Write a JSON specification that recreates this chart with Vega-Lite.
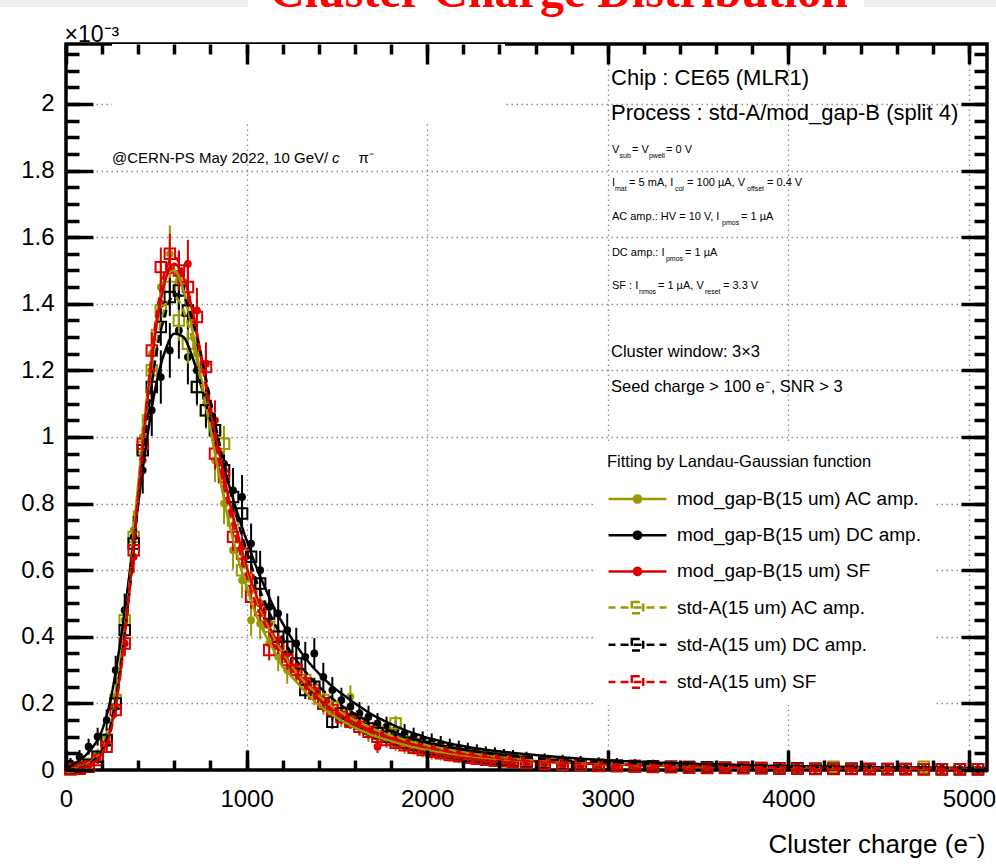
{
  "$schema": "https://vega.github.io/schema/vega-lite/v6.json",
  "width": 921,
  "height": 726,
  "autosize": {"type": "none"},
  "padding": {"left": 66, "top": 44, "right": 9, "bottom": 94},
  "background": "white",
  "config": {
    "view": {"stroke": "black", "strokeWidth": 3.5},
    "axis": {"labelFont": "Liberation Sans", "titleFont": "Liberation Sans", "labelColor": "black", "titleColor": "black", "tickColor": "black", "tickWidth": 3.5, "domain": false},
    "text": {"font": "Liberation Sans", "color": "black", "align": "left", "baseline": "middle"}
  },
  "datasets": {
    "pts": [
      {"x":25,"a":0.004,"b":0.02,"c":0.005,"d":0.003,"e":0.003,"f":0.002,"ea":0.009,"eb":0.016,"ec":0.008,"ed":0.007,"ee":0.007,"ef":0.006},
      {"x":75,"a":0.01,"b":0.04,"c":0.008,"d":0.008,"e":0.006,"f":0.004,"ea":0.012,"eb":0.02,"ec":0.009,"ed":0.008,"ee":0.007,"ef":0.007},
      {"x":125,"a":0.02,"b":0.07,"c":0.015,"d":0.018,"e":0.015,"f":0.01,"ea":0.014,"eb":0.024,"ec":0.011,"ed":0.01,"ee":0.009,"ef":0.008},
      {"x":175,"a":0.045,"b":0.1,"c":0.035,"d":0.04,"e":0.04,"f":0.03,"ea":0.019,"eb":0.027,"ec":0.015,"ed":0.014,"ee":0.013,"ef":0.012},
      {"x":225,"a":0.1,"b":0.15,"c":0.08,"d":0.09,"e":0.09,"f":0.07,"ea":0.025,"eb":0.032,"ec":0.02,"ed":0.019,"ee":0.017,"ef":0.016},
      {"x":275,"a":0.22,"b":0.3,"c":0.19,"d":0.21,"e":0.2,"f":0.18,"ea":0.035,"eb":0.043,"ec":0.028,"ed":0.026,"ee":0.024,"ef":0.023},
      {"x":325,"a":0.45,"b":0.48,"c":0.38,"d":0.45,"e":0.42,"f":0.38,"ea":0.048,"eb":0.05,"ec":0.039,"ed":0.037,"ee":0.033,"ef":0.032},
      {"x":375,"a":0.72,"b":0.7,"c":0.64,"d":0.7,"e":0.68,"f":0.66,"ea":0.059,"eb":0.063,"ec":0.049,"ed":0.046,"ee":0.042,"ef":0.041},
      {"x":425,"a":1.0,"b":0.9,"c":0.93,"d":0.97,"e":0.96,"f":0.98,"ea":0.069,"eb":0.07,"ec":0.058,"ed":0.054,"ee":0.049,"ef":0.049},
      {"x":475,"a":1.25,"b":1.08,"c":1.2,"d":1.2,"e":1.15,"f":1.26,"ea":0.075,"eb":0.077,"ec":0.064,"ed":0.058,"ee":0.052,"ef":0.054},
      {"x":525,"a":1.45,"b":1.18,"c":1.4,"d":1.38,"e":1.33,"f":1.51,"ea":0.08,"eb":0.08,"ec":0.068,"ed":0.062,"ee":0.056,"ef":0.059},
      {"x":575,"a":1.55,"b":1.26,"c":1.5,"d":1.45,"e":1.42,"f":1.55,"ea":0.085,"eb":0.082,"ec":0.071,"ed":0.063,"ee":0.057,"ef":0.06},
      {"x":625,"a":1.47,"b":1.32,"c":1.49,"d":1.35,"e":1.44,"f":1.5,"ea":0.082,"eb":0.085,"ec":0.07,"ed":0.061,"ee":0.058,"ef":0.059},
      {"x":675,"a":1.4,"b":1.24,"c":1.52,"d":1.28,"e":1.38,"f":1.45,"ea":0.08,"eb":0.082,"ec":0.072,"ed":0.06,"ee":0.057,"ef":0.058},
      {"x":725,"a":1.25,"b":1.2,"c":1.38,"d":1.15,"e":1.15,"f":1.36,"ea":0.075,"eb":0.08,"ec":0.068,"ed":0.058,"ee":0.052,"ef":0.056},
      {"x":775,"a":1.1,"b":1.12,"c":1.22,"d":1.08,"e":1.08,"f":1.21,"ea":0.071,"eb":0.078,"ec":0.064,"ed":0.056,"ee":0.051,"ef":0.053},
      {"x":825,"a":0.93,"b":1.0,"c":1.05,"d":1.02,"e":1.02,"f":0.95,"ea":0.066,"eb":0.073,"ec":0.06,"ed":0.054,"ee":0.05,"ef":0.048},
      {"x":875,"a":0.8,"b":0.92,"c":0.9,"d":0.98,"e":0.9,"f":0.88,"ea":0.062,"eb":0.07,"ec":0.056,"ed":0.053,"ee":0.047,"ef":0.046},
      {"x":925,"a":0.66,"b":0.84,"c":0.78,"d":0.75,"e":0.82,"f":0.7,"ea":0.058,"eb":0.067,"ec":0.052,"ed":0.048,"ee":0.045,"ef":0.042},
      {"x":975,"a":0.57,"b":0.82,"c":0.67,"d":0.6,"e":0.77,"f":0.65,"ea":0.054,"eb":0.066,"ec":0.049,"ed":0.043,"ee":0.043,"ef":0.04},
      {"x":1025,"a":0.45,"b":0.68,"c":0.58,"d":0.55,"e":0.64,"f":0.52,"ea":0.048,"eb":0.06,"ec":0.046,"ed":0.041,"ee":0.04,"ef":0.036},
      {"x":1075,"a":0.44,"b":0.6,"c":0.5,"d":0.49,"e":0.56,"f":0.48,"ea":0.048,"eb":0.058,"ec":0.043,"ed":0.04,"ee":0.038,"ef":0.035},
      {"x":1125,"a":0.38,"b":0.49,"c":0.44,"d":0.43,"e":0.47,"f":0.36,"ea":0.045,"eb":0.053,"ec":0.041,"ed":0.037,"ee":0.035,"ef":0.031},
      {"x":1175,"a":0.34,"b":0.47,"c":0.39,"d":0.38,"e":0.4,"f":0.38,"ea":0.043,"eb":0.052,"ec":0.038,"ed":0.035,"ee":0.033,"ef":0.032},
      {"x":1225,"a":0.3,"b":0.42,"c":0.35,"d":0.34,"e":0.37,"f":0.33,"ea":0.041,"eb":0.05,"ec":0.036,"ed":0.033,"ee":0.032,"ef":0.03},
      {"x":1275,"a":0.31,"b":0.38,"c":0.3,"d":0.3,"e":0.32,"f":0.3,"ea":0.041,"eb":0.047,"ec":0.034,"ed":0.032,"ee":0.03,"ef":0.029},
      {"x":1325,"a":0.26,"b":0.34,"c":0.27,"d":0.27,"e":0.24,"f":0.26,"ea":0.038,"eb":0.045,"ec":0.033,"ed":0.03,"ee":0.027,"ef":0.027},
      {"x":1375,"a":0.23,"b":0.35,"c":0.24,"d":0.24,"e":0.25,"f":0.23,"ea":0.036,"eb":0.046,"ec":0.031,"ed":0.029,"ee":0.027,"ef":0.026},
      {"x":1425,"a":0.2,"b":0.28,"c":0.21,"d":0.21,"e":0.2,"f":0.2,"ea":0.034,"eb":0.042,"ec":0.03,"ed":0.027,"ee":0.024,"ef":0.024},
      {"x":1475,"a":0.18,"b":0.24,"c":0.18,"d":0.19,"e":0.145,"f":0.18,"ea":0.032,"eb":0.039,"ec":0.028,"ed":0.026,"ee":0.021,"ef":0.023},
      {"x":1525,"a":0.16,"b":0.21,"c":0.165,"d":0.17,"e":0.17,"f":0.16,"ea":0.031,"eb":0.037,"ec":0.027,"ed":0.025,"ee":0.023,"ef":0.022},
      {"x":1575,"a":0.22,"b":0.19,"c":0.15,"d":0.155,"e":0.15,"f":0.145,"ea":0.034,"eb":0.035,"ec":0.026,"ed":0.024,"ee":0.021,"ef":0.021},
      {"x":1625,"a":0.13,"b":0.17,"c":0.13,"d":0.14,"e":0.14,"f":0.13,"ea":0.028,"eb":0.034,"ec":0.024,"ed":0.023,"ee":0.021,"ef":0.02},
      {"x":1675,"a":0.11,"b":0.16,"c":0.115,"d":0.125,"e":0.125,"f":0.115,"ea":0.026,"eb":0.033,"ec":0.023,"ed":0.022,"ee":0.02,"ef":0.019},
      {"x":1725,"a":0.1,"b":0.14,"c":0.07,"d":0.115,"e":0.11,"f":0.1,"ea":0.025,"eb":0.031,"ec":0.019,"ed":0.021,"ee":0.019,"ef":0.018},
      {"x":1775,"a":0.09,"b":0.13,"c":0.095,"d":0.105,"e":0.1,"f":0.09,"ea":0.024,"eb":0.03,"ec":0.021,"ed":0.02,"ee":0.018,"ef":0.017},
      {"x":1825,"a":0.08,"b":0.12,"c":0.085,"d":0.14,"e":0.09,"f":0.082,"ea":0.023,"eb":0.029,"ec":0.02,"ed":0.023,"ee":0.017,"ef":0.017},
      {"x":1875,"a":0.07,"b":0.11,"c":0.075,"d":0.085,"e":0.082,"f":0.074,"ea":0.022,"eb":0.028,"ec":0.019,"ed":0.018,"ee":0.017,"ef":0.016},
      {"x":1925,"a":0.065,"b":0.1,"c":0.07,"d":0.078,"e":0.075,"f":0.067,"ea":0.021,"eb":0.027,"ec":0.019,"ed":0.018,"ee":0.016,"ef":0.016},
      {"x":1975,"a":0.058,"b":0.09,"c":0.06,"d":0.07,"e":0.068,"f":0.06,"ea":0.02,"eb":0.026,"ec":0.018,"ed":0.017,"ee":0.016,"ef":0.015},
      {"x":2025,"a":0.05,"b":0.085,"c":0.055,"d":0.064,"e":0.062,"f":0.055,"ea":0.019,"eb":0.025,"ec":0.017,"ed":0.016,"ee":0.015,"ef":0.014},
      {"x":2075,"a":0.046,"b":0.078,"c":0.05,"d":0.058,"e":0.056,"f":0.05,"ea":0.018,"eb":0.024,"ec":0.016,"ed":0.016,"ee":0.014,"ef":0.014},
      {"x":2125,"a":0.042,"b":0.07,"c":0.045,"d":0.053,"e":0.051,"f":0.045,"ea":0.018,"eb":0.024,"ec":0.016,"ed":0.015,"ee":0.014,"ef":0.013},
      {"x":2175,"a":0.037,"b":0.065,"c":0.04,"d":0.048,"e":0.047,"f":0.041,"ea":0.017,"eb":0.023,"ec":0.015,"ed":0.015,"ee":0.013,"ef":0.013},
      {"x":2225,"a":0.034,"b":0.06,"c":0.038,"d":0.044,"e":0.043,"f":0.037,"ea":0.016,"eb":0.022,"ec":0.015,"ed":0.014,"ee":0.013,"ef":0.012},
      {"x":2275,"a":0.031,"b":0.055,"c":0.033,"d":0.04,"e":0.039,"f":0.034,"ea":0.016,"eb":0.022,"ec":0.014,"ed":0.014,"ee":0.012,"ef":0.012},
      {"x":2325,"a":0.028,"b":0.05,"c":0.03,"d":0.037,"e":0.036,"f":0.031,"ea":0.015,"eb":0.021,"ec":0.014,"ed":0.013,"ee":0.012,"ef":0.012},
      {"x":2375,"a":0.025,"b":0.047,"c":0.028,"d":0.034,"e":0.033,"f":0.028,"ea":0.015,"eb":0.021,"ec":0.013,"ed":0.013,"ee":0.012,"ef":0.011},
      {"x":2425,"a":0.023,"b":0.043,"c":0.026,"d":0.031,"e":0.03,"f":0.026,"ea":0.014,"eb":0.02,"ec":0.013,"ed":0.012,"ee":0.011,"ef":0.011},
      {"x":2475,"a":0.021,"b":0.04,"c":0.023,"d":0.028,"e":0.028,"f":0.024,"ea":0.014,"eb":0.02,"ec":0.012,"ed":0.012,"ee":0.011,"ef":0.011},
      {"x":2550,"a":0.019,"b":0.036,"c":0.02,"d":0.025,"e":0.025,"f":0.021,"ea":0.014,"eb":0.019,"ec":0.012,"ed":0.012,"ee":0.011,"ef":0.01},
      {"x":2650,"a":0.016,"b":0.032,"c":0.018,"d":0.022,"e":0.022,"f":0.018,"ea":0.013,"eb":0.018,"ec":0.012,"ed":0.011,"ee":0.01,"ef":0.01},
      {"x":2750,"a":0.014,"b":0.028,"c":0.015,"d":0.019,"e":0.019,"f":0.016,"ea":0.012,"eb":0.018,"ec":0.011,"ed":0.011,"ee":0.01,"ef":0.01},
      {"x":2850,"a":0.012,"b":0.025,"c":0.013,"d":0.017,"e":0.017,"f":0.014,"ea":0.012,"eb":0.017,"ec":0.011,"ed":0.01,"ee":0.01,"ef":0.009},
      {"x":2950,"a":0.011,"b":0.022,"c":0.012,"d":0.015,"e":0.015,"f":0.012,"ea":0.012,"eb":0.016,"ec":0.011,"ed":0.01,"ee":0.009,"ef":0.009},
      {"x":3050,"a":0.01,"b":0.02,"c":0.01,"d":0.013,"e":0.013,"f":0.011,"ea":0.011,"eb":0.016,"ec":0.01,"ed":0.01,"ee":0.009,"ef":0.009},
      {"x":3150,"a":0.009,"b":0.018,"c":0.009,"d":0.012,"e":0.012,"f":0.01,"ea":0.011,"eb":0.015,"ec":0.01,"ed":0.009,"ee":0.009,"ef":0.008},
      {"x":3250,"a":0.008,"b":0.016,"c":0.008,"d":0.011,"e":0.011,"f":0.009,"ea":0.011,"eb":0.015,"ec":0.01,"ed":0.009,"ee":0.009,"ef":0.008},
      {"x":3350,"a":0.007,"b":0.014,"c":0.007,"d":0.01,"e":0.01,"f":0.008,"ea":0.01,"eb":0.014,"ec":0.009,"ed":0.009,"ee":0.008,"ef":0.008},
      {"x":3450,"a":0.006,"b":0.013,"c":0.007,"d":0.009,"e":0.009,"f":0.007,"ea":0.01,"eb":0.014,"ec":0.009,"ed":0.009,"ee":0.008,"ef":0.008},
      {"x":3550,"a":0.006,"b":0.012,"c":0.006,"d":0.008,"e":0.008,"f":0.006,"ea":0.01,"eb":0.014,"ec":0.009,"ed":0.009,"ee":0.008,"ef":0.007},
      {"x":3650,"a":0.005,"b":0.011,"c":0.005,"d":0.007,"e":0.007,"f":0.006,"ea":0.01,"eb":0.013,"ec":0.008,"ed":0.008,"ee":0.008,"ef":0.007},
      {"x":3750,"a":0.005,"b":0.01,"c":0.005,"d":0.007,"e":0.007,"f":0.005,"ea":0.01,"eb":0.013,"ec":0.008,"ed":0.008,"ee":0.007,"ef":0.007},
      {"x":3850,"a":0.004,"b":0.009,"c":0.004,"d":0.006,"e":0.006,"f":0.005,"ea":0.009,"eb":0.013,"ec":0.008,"ed":0.008,"ee":0.007,"ef":0.007},
      {"x":3950,"a":0.004,"b":0.008,"c":0.004,"d":0.005,"e":0.005,"f":0.004,"ea":0.009,"eb":0.012,"ec":0.008,"ed":0.008,"ee":0.007,"ef":0.007},
      {"x":4050,"a":0.003,"b":0.007,"c":0.004,"d":0.005,"e":0.005,"f":0.004,"ea":0.009,"eb":0.012,"ec":0.008,"ed":0.008,"ee":0.007,"ef":0.007},
      {"x":4150,"a":0.003,"b":0.007,"c":0.003,"d":0.004,"e":0.004,"f":0.003,"ea":0.009,"eb":0.012,"ec":0.008,"ed":0.007,"ee":0.007,"ef":0.006},
      {"x":4250,"a":0.003,"b":0.006,"c":0.003,"d":0.01,"e":0.004,"f":0.003,"ea":0.009,"eb":0.012,"ec":0.008,"ed":0.009,"ee":0.007,"ef":0.006},
      {"x":4350,"a":0.003,"b":0.006,"c":0.003,"d":0.004,"e":0.004,"f":0.003,"ea":0.009,"eb":0.012,"ec":0.008,"ed":0.007,"ee":0.007,"ef":0.006},
      {"x":4450,"a":0.002,"b":0.005,"c":0.002,"d":0.003,"e":0.003,"f":0.003,"ea":0.008,"eb":0.011,"ec":0.007,"ed":0.007,"ee":0.006,"ef":0.006},
      {"x":4550,"a":0.002,"b":0.005,"c":0.002,"d":0.003,"e":0.003,"f":0.002,"ea":0.008,"eb":0.011,"ec":0.007,"ed":0.007,"ee":0.006,"ef":0.006},
      {"x":4650,"a":0.002,"b":0.004,"c":0.002,"d":0.003,"e":0.003,"f":0.002,"ea":0.008,"eb":0.011,"ec":0.007,"ed":0.007,"ee":0.006,"ef":0.006},
      {"x":4750,"a":0.002,"b":0.004,"c":0.002,"d":0.01,"e":0.002,"f":0.002,"ea":0.008,"eb":0.011,"ec":0.007,"ed":0.009,"ee":0.006,"ef":0.006},
      {"x":4850,"a":0.001,"b":0.004,"c":0.002,"d":0.002,"e":0.002,"f":0.002,"ea":0.008,"eb":0.011,"ec":0.007,"ed":0.007,"ee":0.006,"ef":0.006},
      {"x":4950,"a":0.001,"b":0.003,"c":0.001,"d":0.002,"e":0.002,"f":0.002,"ea":0.008,"eb":0.01,"ec":0.007,"ed":0.007,"ee":0.006,"ef":0.006},
      {"x":5050,"a":0.001,"b":0.003,"c":0.001,"d":0.002,"e":0.002,"f":0.002,"ea":0.008,"eb":0.01,"ec":0.007,"ed":0.007,"ee":0.006,"ef":0.006}
    ],
    "fit": [
      {"x":0,"a":0,"b":0.005,"c":0,"d":0,"e":0,"f":0},
      {"x":50,"a":0.005,"b":0.02,"c":0.003,"d":0.004,"e":0.004,"f":0.002},
      {"x":100,"a":0.012,"b":0.04,"c":0.01,"d":0.011,"e":0.01,"f":0.008},
      {"x":150,"a":0.03,"b":0.07,"c":0.025,"d":0.028,"e":0.027,"f":0.022},
      {"x":200,"a":0.06,"b":0.12,"c":0.055,"d":0.06,"e":0.06,"f":0.05},
      {"x":250,"a":0.14,"b":0.22,"c":0.13,"d":0.14,"e":0.14,"f":0.12},
      {"x":300,"a":0.32,"b":0.38,"c":0.29,"d":0.31,"e":0.3,"f":0.28},
      {"x":350,"a":0.58,"b":0.58,"c":0.53,"d":0.55,"e":0.53,"f":0.53},
      {"x":400,"a":0.86,"b":0.8,"c":0.82,"d":0.82,"e":0.8,"f":0.83},
      {"x":450,"a":1.13,"b":1.0,"c":1.1,"d":1.07,"e":1.05,"f":1.12},
      {"x":500,"a":1.35,"b":1.16,"c":1.33,"d":1.27,"e":1.25,"f":1.36},
      {"x":550,"a":1.48,"b":1.26,"c":1.47,"d":1.39,"e":1.37,"f":1.5},
      {"x":600,"a":1.5,"b":1.31,"c":1.52,"d":1.42,"e":1.43,"f":1.54},
      {"x":650,"a":1.44,"b":1.3,"c":1.48,"d":1.38,"e":1.42,"f":1.49},
      {"x":700,"a":1.32,"b":1.24,"c":1.38,"d":1.29,"e":1.35,"f":1.38},
      {"x":750,"a":1.17,"b":1.15,"c":1.24,"d":1.16,"e":1.24,"f":1.23},
      {"x":800,"a":1.02,"b":1.05,"c":1.09,"d":1.03,"e":1.11,"f":1.07},
      {"x":850,"a":0.88,"b":0.95,"c":0.95,"d":0.9,"e":0.98,"f":0.92},
      {"x":900,"a":0.75,"b":0.86,"c":0.82,"d":0.78,"e":0.86,"f":0.79},
      {"x":950,"a":0.64,"b":0.77,"c":0.71,"d":0.68,"e":0.75,"f":0.68},
      {"x":1000,"a":0.55,"b":0.69,"c":0.61,"d":0.59,"e":0.66,"f":0.58},
      {"x":1050,"a":0.47,"b":0.615,"c":0.53,"d":0.51,"e":0.575,"f":0.5},
      {"x":1100,"a":0.41,"b":0.55,"c":0.46,"d":0.45,"e":0.505,"f":0.44},
      {"x":1150,"a":0.36,"b":0.49,"c":0.405,"d":0.395,"e":0.445,"f":0.385},
      {"x":1200,"a":0.31,"b":0.44,"c":0.355,"d":0.35,"e":0.395,"f":0.34},
      {"x":1250,"a":0.28,"b":0.395,"c":0.315,"d":0.31,"e":0.35,"f":0.3},
      {"x":1300,"a":0.25,"b":0.355,"c":0.28,"d":0.277,"e":0.312,"f":0.267},
      {"x":1350,"a":0.22,"b":0.32,"c":0.25,"d":0.248,"e":0.28,"f":0.238},
      {"x":1400,"a":0.195,"b":0.29,"c":0.224,"d":0.223,"e":0.251,"f":0.213},
      {"x":1450,"a":0.175,"b":0.263,"c":0.2,"d":0.2,"e":0.226,"f":0.191},
      {"x":1500,"a":0.157,"b":0.24,"c":0.18,"d":0.181,"e":0.204,"f":0.172},
      {"x":1550,"a":0.141,"b":0.22,"c":0.162,"d":0.164,"e":0.185,"f":0.155},
      {"x":1600,"a":0.127,"b":0.2,"c":0.146,"d":0.149,"e":0.168,"f":0.14},
      {"x":1650,"a":0.115,"b":0.182,"c":0.132,"d":0.136,"e":0.153,"f":0.127},
      {"x":1700,"a":0.104,"b":0.165,"c":0.12,"d":0.124,"e":0.14,"f":0.115},
      {"x":1750,"a":0.095,"b":0.151,"c":0.109,"d":0.113,"e":0.128,"f":0.105},
      {"x":1800,"a":0.087,"b":0.138,"c":0.099,"d":0.103,"e":0.117,"f":0.096},
      {"x":1850,"a":0.079,"b":0.126,"c":0.09,"d":0.095,"e":0.107,"f":0.088},
      {"x":1900,"a":0.072,"b":0.115,"c":0.082,"d":0.087,"e":0.098,"f":0.08},
      {"x":1950,"a":0.066,"b":0.106,"c":0.075,"d":0.08,"e":0.09,"f":0.073},
      {"x":2000,"a":0.061,"b":0.097,"c":0.069,"d":0.074,"e":0.083,"f":0.067},
      {"x":2050,"a":0.056,"b":0.09,"c":0.063,"d":0.068,"e":0.077,"f":0.062},
      {"x":2100,"a":0.052,"b":0.083,"c":0.058,"d":0.063,"e":0.071,"f":0.057},
      {"x":2150,"a":0.048,"b":0.077,"c":0.053,"d":0.058,"e":0.066,"f":0.052},
      {"x":2200,"a":0.044,"b":0.072,"c":0.049,"d":0.054,"e":0.061,"f":0.048},
      {"x":2250,"a":0.041,"b":0.067,"c":0.045,"d":0.05,"e":0.057,"f":0.044},
      {"x":2300,"a":0.038,"b":0.063,"c":0.042,"d":0.046,"e":0.053,"f":0.041},
      {"x":2350,"a":0.035,"b":0.059,"c":0.039,"d":0.043,"e":0.049,"f":0.038},
      {"x":2400,"a":0.033,"b":0.056,"c":0.036,"d":0.04,"e":0.046,"f":0.035},
      {"x":2450,"a":0.031,"b":0.053,"c":0.034,"d":0.038,"e":0.043,"f":0.033},
      {"x":2500,"a":0.029,"b":0.05,"c":0.031,"d":0.035,"e":0.04,"f":0.03},
      {"x":2600,"a":0.026,"b":0.045,"c":0.027,"d":0.031,"e":0.035,"f":0.026},
      {"x":2800,"a":0.021,"b":0.036,"c":0.022,"d":0.025,"e":0.028,"f":0.021},
      {"x":3000,"a":0.017,"b":0.029,"c":0.018,"d":0.02,"e":0.023,"f":0.017},
      {"x":3200,"a":0.014,"b":0.024,"c":0.015,"d":0.017,"e":0.019,"f":0.014},
      {"x":3400,"a":0.012,"b":0.02,"c":0.012,"d":0.014,"e":0.016,"f":0.012},
      {"x":3600,"a":0.01,"b":0.017,"c":0.01,"d":0.012,"e":0.013,"f":0.01},
      {"x":3800,"a":0.0085,"b":0.014,"c":0.0088,"d":0.01,"e":0.011,"f":0.0084},
      {"x":4000,"a":0.0073,"b":0.012,"c":0.0075,"d":0.0087,"e":0.0095,"f":0.0072},
      {"x":4200,"a":0.0063,"b":0.0105,"c":0.0065,"d":0.0076,"e":0.0083,"f":0.0062},
      {"x":4400,"a":0.0055,"b":0.009,"c":0.0057,"d":0.0066,"e":0.0072,"f":0.0054},
      {"x":4600,"a":0.0048,"b":0.008,"c":0.005,"d":0.0058,"e":0.0063,"f":0.0047},
      {"x":4800,"a":0.0042,"b":0.007,"c":0.0044,"d":0.0051,"e":0.0055,"f":0.0042},
      {"x":5000,"a":0.0037,"b":0.0062,"c":0.0039,"d":0.0045,"e":0.0049,"f":0.0037},
      {"x":5100,"a":0.0035,"b":0.006,"c":0.0037,"d":0.0043,"e":0.0046,"f":0.0035}
    ]
  },
  "resolve": {"axis": {"x": "independent", "y": "independent"}},
  "layer": [
    {
      "data": {"values": [{}]},
      "mark": {"type": "rect", "color": "white"},
      "encoding": {
        "x": {"datum": 255, "type": "quantitative", "axis": null},
        "x2": {"datum": 2431},
        "y": {"datum": 1.946, "type": "quantitative", "axis": null},
        "y2": {"datum": 2.18}
      }
    },
    {
      "data": {"values": [{}]},
      "mark": {"type": "rect", "color": "#eeeeee"},
      "encoding": {
        "x": {"datum": -366, "type": "quantitative", "axis": null},
        "x2": {"datum": 1008},
        "y": {"datum": 2.2911, "type": "quantitative", "axis": null},
        "y2": {"datum": 2.3125}
      }
    },
    {
      "data": {"values": [{}]},
      "mark": {"type": "rect", "color": "#eeeeee"},
      "encoding": {
        "x": {"datum": 4419, "type": "quantitative", "axis": null},
        "x2": {"datum": 5160},
        "y": {"datum": 2.2911, "type": "quantitative", "axis": null},
        "y2": {"datum": 2.3125}
      }
    },
    {
      "data": {"values": [{}]},
      "mark": {"type": "text", "font": "Liberation Serif", "fontSize": 48, "fontWeight": "bold", "color": "#ff0000", "align": "center", "baseline": "alphabetic"},
      "encoding": {
        "x": {"datum": 2730, "type": "quantitative", "axis": null},
        "y": {"datum": 2.2911, "type": "quantitative", "axis": null},
        "text": {"value": "Cluster Charge Distribution"}
      }
    },
    {
      "data": {"name": "pts"},
      "mark": {"type": "errorbar", "color": "#999900", "thickness": 2},
      "encoding": {"x": {"field": "x", "type": "quantitative", "axis": null}, "y": {"field": "a", "type": "quantitative", "axis": null}, "yError": {"field": "ea"}}
    },
    {
      "data": {"name": "pts"},
      "mark": {"type": "point", "shape": "circle", "filled": true, "size": 60, "color": "#999900", "opacity": 1},
      "encoding": {
        "x": {"field": "x", "type": "quantitative", "scale": {"domain": [0, 5100], "nice": false, "zero": false},
          "axis": {"orient": "bottom", "values": [1000, 2000, 3000, 4000, 5000], "grid": true, "gridDash": [1.5, 3.5], "gridColor": "#8c8c8c", "gridWidth": 1.3, "labels": false, "ticks": false, "title": null, "zindex": 0}},
        "y": {"field": "a", "type": "quantitative", "scale": {"domain": [0, 2.18], "nice": false, "zero": false},
          "axis": {"orient": "left", "values": [0.2, 0.4, 0.6, 0.8, 1, 1.2, 1.4, 1.6, 1.8, 2], "grid": true, "gridDash": [1.5, 3.5], "gridColor": "#8c8c8c", "gridWidth": 1.3, "labels": false, "ticks": false, "title": null, "zindex": 0}}
      }
    },
    {
      "data": {"name": "pts"},
      "mark": {"type": "errorbar", "color": "#000000", "thickness": 2},
      "encoding": {"x": {"field": "x", "type": "quantitative", "axis": null}, "y": {"field": "b", "type": "quantitative", "axis": null}, "yError": {"field": "eb"}}
    },
    {
      "data": {"name": "pts"},
      "mark": {"type": "point", "shape": "circle", "filled": true, "size": 60, "color": "#000000", "opacity": 1},
      "encoding": {
        "x": {"field": "x", "type": "quantitative", "scale": {"domain": [0, 5100], "nice": false, "zero": false},
          "axis": {"orient": "bottom", "values": [0, 1000, 2000, 3000, 4000, 5000], "format": "d", "labels": true, "labelFontSize": 24, "labelPadding": 17, "labelFlush": false, "labelOverlap": false, "labelBaseline": "top", "ticks": false, "grid": false, "title": "Cluster charge (e⁻)", "titleFontSize": 26, "titleFontWeight": "normal", "titleX": 919, "titleY": 82, "titleAlign": "right", "titleBaseline": "alphabetic", "zindex": 2}},
        "y": {"field": "b", "type": "quantitative", "scale": {"domain": [0, 2.18], "nice": false, "zero": false},
          "axis": {"orient": "left", "values": [0, 0.2, 0.4, 0.6, 0.8, 1, 1.2, 1.4, 1.6, 1.8, 2], "format": "~g", "labels": true, "labelFontSize": 24, "labelPadding": 12, "labelFlush": false, "labelOverlap": false, "ticks": false, "grid": false, "title": "×10⁻³", "titleAngle": 0, "titleX": -2, "titleY": -3, "titleAlign": "left", "titleBaseline": "alphabetic", "titleFontSize": 23, "titleFontWeight": "normal", "zindex": 2}}
      }
    },
    {
      "data": {"name": "pts"},
      "mark": {"type": "errorbar", "color": "#dd0000", "thickness": 2},
      "encoding": {"x": {"field": "x", "type": "quantitative", "axis": null}, "y": {"field": "c", "type": "quantitative", "axis": null}, "yError": {"field": "ec"}}
    },
    {
      "data": {"name": "pts"},
      "mark": {"type": "point", "shape": "circle", "filled": true, "size": 60, "color": "#dd0000", "opacity": 1},
      "encoding": {
        "x": {"field": "x", "type": "quantitative", "scale": {"domain": [0, 5100], "nice": false, "zero": false},
          "axis": {"orient": "bottom", "values": [0, 1000, 2000, 3000, 4000, 5000], "labels": false, "ticks": true, "tickSize": 20, "offset": -20, "grid": false, "title": null, "zindex": 2}},
        "y": {"field": "c", "type": "quantitative", "scale": {"domain": [0, 2.18], "nice": false, "zero": false},
          "axis": {"orient": "left", "values": [0, 0.2, 0.4, 0.6, 0.8, 1, 1.2, 1.4, 1.6, 1.8, 2], "labels": false, "ticks": true, "tickSize": 27, "offset": -27, "grid": false, "title": null, "zindex": 2}}
      }
    },
    {
      "data": {"name": "pts"},
      "mark": {"type": "errorbar", "color": "#999900", "thickness": 2},
      "encoding": {"x": {"field": "x", "type": "quantitative", "axis": null}, "y": {"field": "d", "type": "quantitative", "axis": null}, "yError": {"field": "ed"}}
    },
    {
      "data": {"name": "pts"},
      "mark": {"type": "point", "shape": "square", "filled": false, "size": 110, "strokeWidth": 2, "color": "#999900", "opacity": 1},
      "encoding": {
        "x": {"field": "x", "type": "quantitative", "scale": {"domain": [0, 5100], "nice": false, "zero": false},
          "axis": {"orient": "bottom", "values": [0, 200, 400, 600, 800, 1000, 1200, 1400, 1600, 1800, 2000, 2200, 2400, 2600, 2800, 3000, 3200, 3400, 3600, 3800, 4000, 4200, 4400, 4600, 4800, 5000], "labels": false, "ticks": true, "tickSize": 10, "offset": -10, "grid": false, "title": null, "zindex": 2}},
        "y": {"field": "d", "type": "quantitative", "scale": {"domain": [0, 2.18], "nice": false, "zero": false},
          "axis": {"orient": "left", "values": [0, 0.05, 0.1, 0.15, 0.2, 0.25, 0.3, 0.35, 0.4, 0.45, 0.5, 0.55, 0.6, 0.65, 0.7, 0.75, 0.8, 0.85, 0.9, 0.95, 1, 1.05, 1.1, 1.15, 1.2, 1.25, 1.3, 1.35, 1.4, 1.45, 1.5, 1.55, 1.6, 1.65, 1.7, 1.75, 1.8, 1.85, 1.9, 1.95, 2, 2.05, 2.1, 2.15], "labels": false, "ticks": true, "tickSize": 13, "offset": -13, "grid": false, "title": null, "zindex": 2}}
      }
    },
    {
      "data": {"name": "pts"},
      "mark": {"type": "errorbar", "color": "#000000", "thickness": 2},
      "encoding": {"x": {"field": "x", "type": "quantitative", "axis": null}, "y": {"field": "e", "type": "quantitative", "axis": null}, "yError": {"field": "ee"}}
    },
    {
      "data": {"name": "pts"},
      "mark": {"type": "point", "shape": "square", "filled": false, "size": 110, "strokeWidth": 2, "color": "#000000", "opacity": 1},
      "encoding": {
        "x": {"field": "x", "type": "quantitative", "scale": {"domain": [0, 5100], "nice": false, "zero": false},
          "axis": {"orient": "top", "values": [0, 1000, 2000, 3000, 4000, 5000], "labels": false, "ticks": true, "tickSize": 20, "offset": -20, "grid": false, "title": null, "zindex": 2}},
        "y": {"field": "e", "type": "quantitative", "scale": {"domain": [0, 2.18], "nice": false, "zero": false},
          "axis": {"orient": "right", "values": [0, 0.2, 0.4, 0.6, 0.8, 1, 1.2, 1.4, 1.6, 1.8, 2], "labels": false, "ticks": true, "tickSize": 26, "offset": -26, "grid": false, "title": null, "zindex": 2}}
      }
    },
    {
      "data": {"name": "pts"},
      "mark": {"type": "errorbar", "color": "#dd0000", "thickness": 2},
      "encoding": {"x": {"field": "x", "type": "quantitative", "axis": null}, "y": {"field": "f", "type": "quantitative", "axis": null}, "yError": {"field": "ef"}}
    },
    {
      "data": {"name": "pts"},
      "mark": {"type": "point", "shape": "square", "filled": false, "size": 110, "strokeWidth": 2, "color": "#dd0000", "opacity": 1},
      "encoding": {
        "x": {"field": "x", "type": "quantitative", "scale": {"domain": [0, 5100], "nice": false, "zero": false},
          "axis": {"orient": "top", "values": [0, 200, 400, 600, 800, 1000, 1200, 1400, 1600, 1800, 2000, 2200, 2400, 2600, 2800, 3000, 3200, 3400, 3600, 3800, 4000, 4200, 4400, 4600, 4800, 5000], "labels": false, "ticks": true, "tickSize": 10, "offset": -10, "grid": false, "title": null, "zindex": 2}},
        "y": {"field": "f", "type": "quantitative", "scale": {"domain": [0, 2.18], "nice": false, "zero": false},
          "axis": {"orient": "right", "values": [0, 0.05, 0.1, 0.15, 0.2, 0.25, 0.3, 0.35, 0.4, 0.45, 0.5, 0.55, 0.6, 0.65, 0.7, 0.75, 0.8, 0.85, 0.9, 0.95, 1, 1.05, 1.1, 1.15, 1.2, 1.25, 1.3, 1.35, 1.4, 1.45, 1.5, 1.55, 1.6, 1.65, 1.7, 1.75, 1.8, 1.85, 1.9, 1.95, 2, 2.05, 2.1, 2.15], "labels": false, "ticks": true, "tickSize": 13, "offset": -13, "grid": false, "title": null, "zindex": 2}}
      }
    },
    {
      "data": {"name": "fit"},
      "transform": [{"fold": ["a", "b", "c", "d", "e", "f"], "as": ["s", "y"]}],
      "mark": {"type": "line", "interpolate": "monotone", "strokeWidth": 2.5, "clip": true},
      "encoding": {
        "x": {"field": "x", "type": "quantitative", "axis": null},
        "y": {"field": "y", "type": "quantitative", "axis": null},
        "color": {"field": "s", "type": "nominal",
          "scale": {"domain": ["a", "b", "c", "d", "e", "f"], "range": ["#999900", "#000000", "#dd0000", "#999900", "#000000", "#dd0000"]},
          "legend": {
            "title": "Fitting by Landau-Gaussian function", "orient": "none", "legendX": 529, "legendY": 398,
            "labelExpr": "datum.value == 'a' ? 'mod_gap-B(15 um) AC amp.' : datum.value == 'b' ? 'mod_gap-B(15 um) DC amp.' : datum.value == 'c' ? 'mod_gap-B(15 um) SF' : datum.value == 'd' ? 'std-A(15 um) AC amp.' : datum.value == 'e' ? 'std-A(15 um) DC amp.' : 'std-A(15 um) SF'",
            "titleFont": "Liberation Sans", "titleFontSize": 16.5, "titleFontWeight": "normal", "titleColor": "black", "titlePadding": 12, "titleLimit": 0,
            "labelFont": "Liberation Sans", "labelFontSize": 19, "labelColor": "black", "labelLimit": 0,
            "symbolSize": 900, "symbolOffset": 14, "labelOffset": 23, "rowPadding": 9.2, "fillColor": "white", "padding": 12, "symbolStrokeWidth": 2.5,
            "encode": {"symbols": {"update": {
              "shape": {"signal": "datum.value <= 'c' ? 'M-1.93,0H1.93M-0.24,0A0.24,0.24,0,1,1,0.24,0A0.24,0.24,0,1,1,-0.24,0Z' : 'M-1.93,0H-1.47M-1.13,0H1.13M1.47,0H1.93M-0.38,-0.38H0.38V0.38H-0.38Z'"},
              "fill": {"signal": "datum.value == 'a' ? '#999900' : datum.value == 'b' ? '#000000' : datum.value == 'c' ? '#dd0000' : '#ffffff'"},
              "fillOpacity": {"value": 1},
              "strokeDash": {"value": []},
              "opacity": {"value": 1}
            }}}
          }},
        "strokeDash": {"field": "s", "type": "nominal", "scale": {"domain": ["a", "b", "c", "d", "e", "f"], "range": [[1, 0], [1, 0], [1, 0], [8, 5], [8, 5], [8, 5]]}}
      }
    },
    {"data": {"values": [{}]}, "mark": {"type": "text", "fontSize": 22}, "encoding": {"x": {"datum": 3018, "type": "quantitative", "axis": null}, "y": {"datum": 2.078, "type": "quantitative", "axis": null}, "text": {"value": "Chip : CE65 (MLR1)"}}},
    {"data": {"values": [{}]}, "mark": {"type": "text", "fontSize": 22}, "encoding": {"x": {"datum": 3018, "type": "quantitative", "axis": null}, "y": {"datum": 1.973, "type": "quantitative", "axis": null}, "text": {"value": "Process : std-A/mod_gap-B (split 4)"}}},
    {"data": {"values": [{}]}, "mark": {"type": "text", "fontSize": 15}, "encoding": {"x": {"datum": 255, "type": "quantitative", "axis": null}, "y": {"datum": 1.838, "type": "quantitative", "axis": null}, "text": {"value": "@CERN-PS May 2022, 10 GeV/"}}},
    {"data": {"values": [{}]}, "mark": {"type": "text", "fontSize": 15, "fontStyle": "italic"}, "encoding": {"x": {"datum": 1473, "type": "quantitative", "axis": null}, "y": {"datum": 1.838, "type": "quantitative", "axis": null}, "text": {"value": "c"}}},
    {"data": {"values": [{}]}, "mark": {"type": "text", "fontSize": 15}, "encoding": {"x": {"datum": 1620, "type": "quantitative", "axis": null}, "y": {"datum": 1.838, "type": "quantitative", "axis": null}, "text": {"value": "π⁻"}}},
    {"data": {"values": [{}]}, "mark": {"type": "text", "fontSize": 16.5}, "encoding": {"x": {"datum": 3018, "type": "quantitative", "axis": null}, "y": {"datum": 1.2551, "type": "quantitative", "axis": null}, "text": {"value": "Cluster window: 3×3"}}},
    {"data": {"values": [{}]}, "mark": {"type": "text", "fontSize": 16.5}, "encoding": {"x": {"datum": 3018, "type": "quantitative", "axis": null}, "y": {"datum": 1.150, "type": "quantitative", "axis": null}, "text": {"value": "Seed charge > 100 e⁻, SNR > 3"}}},
    {"data": {"values": [{}]}, "mark": {"type": "text", "fontSize": 11}, "encoding": {"x": {"datum": 3023, "type": "quantitative", "axis": null}, "y": {"datum": 1.8617, "type": "quantitative", "axis": null}, "text": {"value": "V"}}},
    {"data": {"values": [{}]}, "mark": {"type": "text", "fontSize": 7}, "encoding": {"x": {"datum": 3065, "type": "quantitative", "axis": null}, "y": {"datum": 1.8437, "type": "quantitative", "axis": null}, "text": {"value": "sub"}}},
    {"data": {"values": [{}]}, "mark": {"type": "text", "fontSize": 11}, "encoding": {"x": {"datum": 3134, "type": "quantitative", "axis": null}, "y": {"datum": 1.8617, "type": "quantitative", "axis": null}, "text": {"value": "= V"}}},
    {"data": {"values": [{}]}, "mark": {"type": "text", "fontSize": 7}, "encoding": {"x": {"datum": 3228, "type": "quantitative", "axis": null}, "y": {"datum": 1.8437, "type": "quantitative", "axis": null}, "text": {"value": "pwell"}}},
    {"data": {"values": [{}]}, "mark": {"type": "text", "fontSize": 11}, "encoding": {"x": {"datum": 3323, "type": "quantitative", "axis": null}, "y": {"datum": 1.8617, "type": "quantitative", "axis": null}, "text": {"value": "= 0 V"}}},
    {"data": {"values": [{}]}, "mark": {"type": "text", "fontSize": 11}, "encoding": {"x": {"datum": 3023, "type": "quantitative", "axis": null}, "y": {"datum": 1.7626, "type": "quantitative", "axis": null}, "text": {"value": "I"}}},
    {"data": {"values": [{}]}, "mark": {"type": "text", "fontSize": 7}, "encoding": {"x": {"datum": 3040, "type": "quantitative", "axis": null}, "y": {"datum": 1.7446, "type": "quantitative", "axis": null}, "text": {"value": "mat"}}},
    {"data": {"values": [{}]}, "mark": {"type": "text", "fontSize": 11}, "encoding": {"x": {"datum": 3118, "type": "quantitative", "axis": null}, "y": {"datum": 1.7626, "type": "quantitative", "axis": null}, "text": {"value": "= 5 mA, I"}}},
    {"data": {"values": [{}]}, "mark": {"type": "text", "fontSize": 7}, "encoding": {"x": {"datum": 3372, "type": "quantitative", "axis": null}, "y": {"datum": 1.7446, "type": "quantitative", "axis": null}, "text": {"value": "col"}}},
    {"data": {"values": [{}]}, "mark": {"type": "text", "fontSize": 11}, "encoding": {"x": {"datum": 3439, "type": "quantitative", "axis": null}, "y": {"datum": 1.7626, "type": "quantitative", "axis": null}, "text": {"value": "= 100 µA, V"}}},
    {"data": {"values": [{}]}, "mark": {"type": "text", "fontSize": 7}, "encoding": {"x": {"datum": 3771, "type": "quantitative", "axis": null}, "y": {"datum": 1.7446, "type": "quantitative", "axis": null}, "text": {"value": "offset"}}},
    {"data": {"values": [{}]}, "mark": {"type": "text", "fontSize": 11}, "encoding": {"x": {"datum": 3882, "type": "quantitative", "axis": null}, "y": {"datum": 1.7626, "type": "quantitative", "axis": null}, "text": {"value": "= 0.4 V"}}},
    {"data": {"values": [{}]}, "mark": {"type": "text", "fontSize": 11}, "encoding": {"x": {"datum": 3023, "type": "quantitative", "axis": null}, "y": {"datum": 1.6605, "type": "quantitative", "axis": null}, "text": {"value": "AC amp.: HV = 10 V, I"}}},
    {"data": {"values": [{}]}, "mark": {"type": "text", "fontSize": 7}, "encoding": {"x": {"datum": 3633, "type": "quantitative", "axis": null}, "y": {"datum": 1.6425, "type": "quantitative", "axis": null}, "text": {"value": "pmos"}}},
    {"data": {"values": [{}]}, "mark": {"type": "text", "fontSize": 11}, "encoding": {"x": {"datum": 3738, "type": "quantitative", "axis": null}, "y": {"datum": 1.6605, "type": "quantitative", "axis": null}, "text": {"value": "= 1 µA"}}},
    {"data": {"values": [{}]}, "mark": {"type": "text", "fontSize": 11}, "encoding": {"x": {"datum": 3023, "type": "quantitative", "axis": null}, "y": {"datum": 1.5524, "type": "quantitative", "axis": null}, "text": {"value": "DC amp.: I"}}},
    {"data": {"values": [{}]}, "mark": {"type": "text", "fontSize": 7}, "encoding": {"x": {"datum": 3322, "type": "quantitative", "axis": null}, "y": {"datum": 1.5344, "type": "quantitative", "axis": null}, "text": {"value": "pmos"}}},
    {"data": {"values": [{}]}, "mark": {"type": "text", "fontSize": 11}, "encoding": {"x": {"datum": 3428, "type": "quantitative", "axis": null}, "y": {"datum": 1.5524, "type": "quantitative", "axis": null}, "text": {"value": "= 1 µA"}}},
    {"data": {"values": [{}]}, "mark": {"type": "text", "fontSize": 11}, "encoding": {"x": {"datum": 3023, "type": "quantitative", "axis": null}, "y": {"datum": 1.4533, "type": "quantitative", "axis": null}, "text": {"value": "SF : I"}}},
    {"data": {"values": [{}]}, "mark": {"type": "text", "fontSize": 7}, "encoding": {"x": {"datum": 3173, "type": "quantitative", "axis": null}, "y": {"datum": 1.4353, "type": "quantitative", "axis": null}, "text": {"value": "nmos"}}},
    {"data": {"values": [{}]}, "mark": {"type": "text", "fontSize": 11}, "encoding": {"x": {"datum": 3278, "type": "quantitative", "axis": null}, "y": {"datum": 1.4533, "type": "quantitative", "axis": null}, "text": {"value": "= 1 µA, V"}}},
    {"data": {"values": [{}]}, "mark": {"type": "text", "fontSize": 7}, "encoding": {"x": {"datum": 3538, "type": "quantitative", "axis": null}, "y": {"datum": 1.4353, "type": "quantitative", "axis": null}, "text": {"value": "reset"}}},
    {"data": {"values": [{}]}, "mark": {"type": "text", "fontSize": 11}, "encoding": {"x": {"datum": 3638, "type": "quantitative", "axis": null}, "y": {"datum": 1.4533, "type": "quantitative", "axis": null}, "text": {"value": "= 3.3 V"}}}
  ]
}
